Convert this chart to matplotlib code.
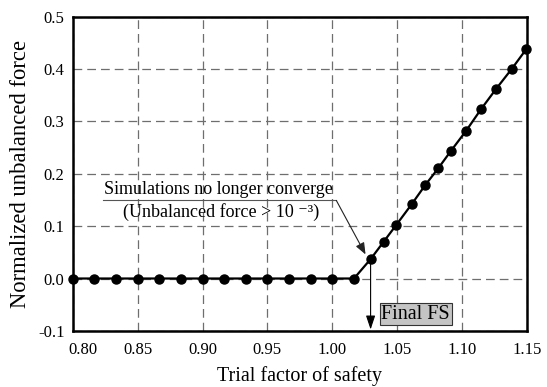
import matplotlib
matplotlib.use("Agg")
import matplotlib.pyplot as plt
import matplotlib.transforms as mtransforms
from matplotlib.patches import FancyArrowPatch

# Data
fs_values = [0.8000, 0.8167, 0.8333, 0.8500, 0.8667, 0.8833, 0.9000, 0.9167,
             0.9333, 0.9500, 0.9667, 0.9833, 1.0000, 1.0167,
             1.0295, 1.0395, 1.0492, 1.0612, 1.0715, 1.0818, 1.0912,
             1.1031, 1.1148, 1.1262, 1.1382, 1.1495]
force_values = [0.0, 0.0, 0.0, 0.0, 0.0, 0.0, 0.0, 0.0,
                0.0, 0.0, 0.0, 0.0, 0.0, 0.0,
                0.037, 0.070, 0.102, 0.142, 0.178, 0.211, 0.243,
                0.282, 0.324, 0.362, 0.400, 0.438]
x_ticks = [0.80, 0.85, 0.90, 0.95, 1.00, 1.05, 1.10, 1.15]
x_tick_labels = ["0.80", "0.85", "0.90", "0.95", "1.00", "1.05", "1.10", "1.15"]
y_ticks = [-0.1, 0.0, 0.1, 0.2, 0.3, 0.4, 0.5]
y_tick_labels = ["-0.1", "0.0", "0.1", "0.2", "0.3", "0.4", "0.5"]
final_fs = 1.0295
final_force = 0.037

plt.rcParams['font.family'] = ['Liberation Serif', 'DejaVu Serif']

fig = plt.figure(figsize=(5.47, 3.87), dpi=100)
ax = fig.add_axes([0.133, 0.145, 0.8304, 0.812])

ax.plot(fs_values, force_values, color='black', lw=1.6, marker='o',
        markersize=6.5, zorder=5, clip_on=False)

ax.set_xlim(0.80, 1.15)
ax.set_ylim(-0.1, 0.5)
ax.set_xticks(x_ticks)
ax.set_xticklabels(x_tick_labels, fontsize=12)
ax.set_yticks(y_ticks)
ax.set_yticklabels(y_tick_labels, fontsize=12)
ax.tick_params(axis='x', length=0, pad=8)
ax.tick_params(axis='y', length=0, pad=6)
ax.grid(True, color='#6e6e6e', linestyle=(0, (7, 4)), lw=0.9)
for s in ax.spines.values():
    s.set_linewidth(1.8)

# shift first x tick label to the right a bit like reference
lbl = ax.get_xticklabels()[0]
lbl.set_transform(lbl.get_transform() + mtransforms.ScaledTranslation(0.1, 0, fig.dpi_scale_trans))

ax.set_xlabel("Trial factor of safety", fontsize=14.5, labelpad=6)
ax.set_ylabel("Normalized unbalanced force", fontsize=16.3, labelpad=5)

# annotation text
ax.text(0.9121, 0.1606, "Simulations no longer converge", fontsize=13,
        ha='center', va='baseline', zorder=6)
ax.text(0.914, 0.1168, "(Unbalanced force > 10 ⁻³)",
        fontsize=13, ha='center', va='baseline', zorder=6)
# underline + leader
ax.plot([0.8231, 1.0031], [0.149, 0.149], color='#555555', lw=0.8, zorder=6)
arr = FancyArrowPatch((1.0031, 0.149), (1.0256, 0.046),
                      arrowstyle='-|>,head_length=0.5,head_width=0.2',
                      mutation_scale=14, color='#222222',
                      lw=0.8, zorder=6, shrinkA=0, shrinkB=0)
ax.add_patch(arr)

# vertical arrow to x-axis
arr2 = FancyArrowPatch((final_fs, final_force), (final_fs, -0.1),
                       arrowstyle='-|>,head_length=0.6,head_width=0.2',
                       mutation_scale=14, color='black',
                       lw=0.8, zorder=6, clip_on=False, shrinkA=0, shrinkB=1)
ax.add_patch(arr2)

ax.text(1.0379, -0.068, "Final FS", fontsize=14.5, ha='left', va='center',
        zorder=7,
        bbox=dict(boxstyle='square,pad=0.08', facecolor='#c4c4c4',
                  edgecolor='#333333', lw=0.8))

fig.savefig("out.png", dpi=100)
